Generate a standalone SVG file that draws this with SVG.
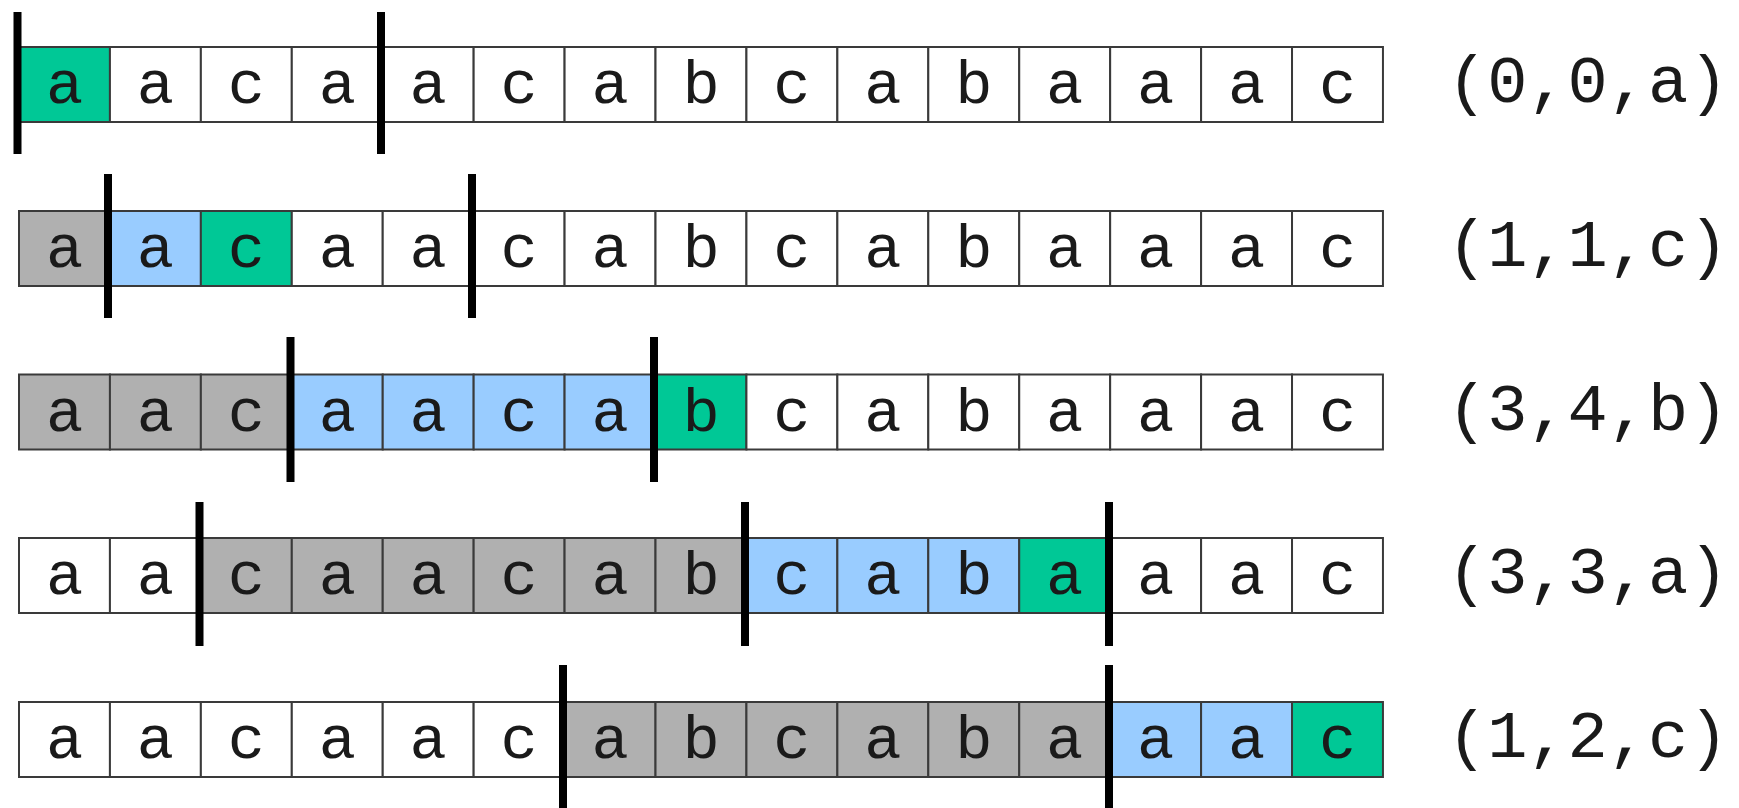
<svg xmlns="http://www.w3.org/2000/svg" width="1739" height="808" viewBox="0 0 1739 808">
<style>
.c{stroke:#3a3a3a;stroke-width:2}
.w{fill:#ffffff}
.g{fill:#b0b0b0}
.b{fill:#99ccff}
.s{fill:#00c896}
text{font-family:"Liberation Mono","Courier New",monospace;fill:#1a1a1a}
.t{text-anchor:middle;font-size:62px}
.l{font-size:67px}
.bar{stroke:#000;stroke-width:8}
</style>
<defs>
<g id="letters">
<text class="t" x="64.5" y="56">a</text>
<text class="t" x="155.4" y="56">a</text>
<text class="t" x="246.3" y="56">c</text>
<text class="t" x="337.3" y="56">a</text>
<text class="t" x="428.2" y="56">a</text>
<text class="t" x="519.1" y="56">c</text>
<text class="t" x="610" y="56">a</text>
<text class="t" x="701" y="56">b</text>
<text class="t" x="791.9" y="56">c</text>
<text class="t" x="882.8" y="56">a</text>
<text class="t" x="973.8" y="56">b</text>
<text class="t" x="1064.7" y="56">a</text>
<text class="t" x="1155.6" y="56">a</text>
<text class="t" x="1246.6" y="56">a</text>
<text class="t" x="1337.5" y="56">c</text>
</g>
</defs>
<rect width="1739" height="808" fill="#ffffff"/>
<g id="row1" transform="translate(0,47)">
<rect class="c s" x="19" y="0" width="90.93" height="75"/>
<rect class="c w" x="109.93" y="0" width="90.93" height="75"/>
<rect class="c w" x="200.86" y="0" width="90.93" height="75"/>
<rect class="c w" x="291.79" y="0" width="90.93" height="75"/>
<rect class="c w" x="382.72" y="0" width="90.93" height="75"/>
<rect class="c w" x="473.65" y="0" width="90.93" height="75"/>
<rect class="c w" x="564.58" y="0" width="90.93" height="75"/>
<rect class="c w" x="655.51" y="0" width="90.93" height="75"/>
<rect class="c w" x="746.44" y="0" width="90.93" height="75"/>
<rect class="c w" x="837.37" y="0" width="90.93" height="75"/>
<rect class="c w" x="928.3" y="0" width="90.93" height="75"/>
<rect class="c w" x="1019.23" y="0" width="90.93" height="75"/>
<rect class="c w" x="1110.16" y="0" width="90.93" height="75"/>
<rect class="c w" x="1201.09" y="0" width="90.93" height="75"/>
<rect class="c w" x="1292.02" y="0" width="90.93" height="75"/>
<use href="#letters"/>
<text class="l" x="1447" y="55">(0,0,a)</text>
</g>
<g id="row2" transform="translate(0,211)">
<rect class="c g" x="19" y="0" width="90.93" height="75"/>
<rect class="c b" x="109.93" y="0" width="90.93" height="75"/>
<rect class="c s" x="200.86" y="0" width="90.93" height="75"/>
<rect class="c w" x="291.79" y="0" width="90.93" height="75"/>
<rect class="c w" x="382.72" y="0" width="90.93" height="75"/>
<rect class="c w" x="473.65" y="0" width="90.93" height="75"/>
<rect class="c w" x="564.58" y="0" width="90.93" height="75"/>
<rect class="c w" x="655.51" y="0" width="90.93" height="75"/>
<rect class="c w" x="746.44" y="0" width="90.93" height="75"/>
<rect class="c w" x="837.37" y="0" width="90.93" height="75"/>
<rect class="c w" x="928.3" y="0" width="90.93" height="75"/>
<rect class="c w" x="1019.23" y="0" width="90.93" height="75"/>
<rect class="c w" x="1110.16" y="0" width="90.93" height="75"/>
<rect class="c w" x="1201.09" y="0" width="90.93" height="75"/>
<rect class="c w" x="1292.02" y="0" width="90.93" height="75"/>
<use href="#letters"/>
<text class="l" x="1447" y="55">(1,1,c)</text>
</g>
<g id="row3" transform="translate(0,374.5)">
<rect class="c g" x="19" y="0" width="90.93" height="75"/>
<rect class="c g" x="109.93" y="0" width="90.93" height="75"/>
<rect class="c g" x="200.86" y="0" width="90.93" height="75"/>
<rect class="c b" x="291.79" y="0" width="90.93" height="75"/>
<rect class="c b" x="382.72" y="0" width="90.93" height="75"/>
<rect class="c b" x="473.65" y="0" width="90.93" height="75"/>
<rect class="c b" x="564.58" y="0" width="90.93" height="75"/>
<rect class="c s" x="655.51" y="0" width="90.93" height="75"/>
<rect class="c w" x="746.44" y="0" width="90.93" height="75"/>
<rect class="c w" x="837.37" y="0" width="90.93" height="75"/>
<rect class="c w" x="928.3" y="0" width="90.93" height="75"/>
<rect class="c w" x="1019.23" y="0" width="90.93" height="75"/>
<rect class="c w" x="1110.16" y="0" width="90.93" height="75"/>
<rect class="c w" x="1201.09" y="0" width="90.93" height="75"/>
<rect class="c w" x="1292.02" y="0" width="90.93" height="75"/>
<use href="#letters"/>
<text class="l" x="1447" y="55">(3,4,b)</text>
</g>
<g id="row4" transform="translate(0,538)">
<rect class="c w" x="19" y="0" width="90.93" height="75"/>
<rect class="c w" x="109.93" y="0" width="90.93" height="75"/>
<rect class="c g" x="200.86" y="0" width="90.93" height="75"/>
<rect class="c g" x="291.79" y="0" width="90.93" height="75"/>
<rect class="c g" x="382.72" y="0" width="90.93" height="75"/>
<rect class="c g" x="473.65" y="0" width="90.93" height="75"/>
<rect class="c g" x="564.58" y="0" width="90.93" height="75"/>
<rect class="c g" x="655.51" y="0" width="90.93" height="75"/>
<rect class="c b" x="746.44" y="0" width="90.93" height="75"/>
<rect class="c b" x="837.37" y="0" width="90.93" height="75"/>
<rect class="c b" x="928.3" y="0" width="90.93" height="75"/>
<rect class="c s" x="1019.23" y="0" width="90.93" height="75"/>
<rect class="c w" x="1110.16" y="0" width="90.93" height="75"/>
<rect class="c w" x="1201.09" y="0" width="90.93" height="75"/>
<rect class="c w" x="1292.02" y="0" width="90.93" height="75"/>
<use href="#letters"/>
<text class="l" x="1447" y="55">(3,3,a)</text>
</g>
<g id="row5" transform="translate(0,702)">
<rect class="c w" x="19" y="0" width="90.93" height="75"/>
<rect class="c w" x="109.93" y="0" width="90.93" height="75"/>
<rect class="c w" x="200.86" y="0" width="90.93" height="75"/>
<rect class="c w" x="291.79" y="0" width="90.93" height="75"/>
<rect class="c w" x="382.72" y="0" width="90.93" height="75"/>
<rect class="c w" x="473.65" y="0" width="90.93" height="75"/>
<rect class="c g" x="564.58" y="0" width="90.93" height="75"/>
<rect class="c g" x="655.51" y="0" width="90.93" height="75"/>
<rect class="c g" x="746.44" y="0" width="90.93" height="75"/>
<rect class="c g" x="837.37" y="0" width="90.93" height="75"/>
<rect class="c g" x="928.3" y="0" width="90.93" height="75"/>
<rect class="c g" x="1019.23" y="0" width="90.93" height="75"/>
<rect class="c b" x="1110.16" y="0" width="90.93" height="75"/>
<rect class="c b" x="1201.09" y="0" width="90.93" height="75"/>
<rect class="c s" x="1292.02" y="0" width="90.93" height="75"/>
<use href="#letters"/>
<text class="l" x="1447" y="55">(1,2,c)</text>
</g>
<g id="connectors">
<line class="bar" x1="17.5" y1="12" x2="17.5" y2="154"/>
<line class="bar" x1="381" y1="12" x2="381" y2="154"/>
<line class="bar" x1="108" y1="174" x2="108" y2="318"/>
<line class="bar" x1="472" y1="174" x2="472" y2="318"/>
<line class="bar" x1="290.5" y1="337" x2="290.5" y2="482"/>
<line class="bar" x1="654" y1="337" x2="654" y2="482"/>
<line class="bar" x1="199.5" y1="502" x2="199.5" y2="646"/>
<line class="bar" x1="745" y1="502" x2="745" y2="646"/>
<line class="bar" x1="1109" y1="502" x2="1109" y2="646"/>
<line class="bar" x1="563" y1="665" x2="563" y2="808"/>
<line class="bar" x1="1109" y1="665" x2="1109" y2="808"/>
</g>
</svg>
